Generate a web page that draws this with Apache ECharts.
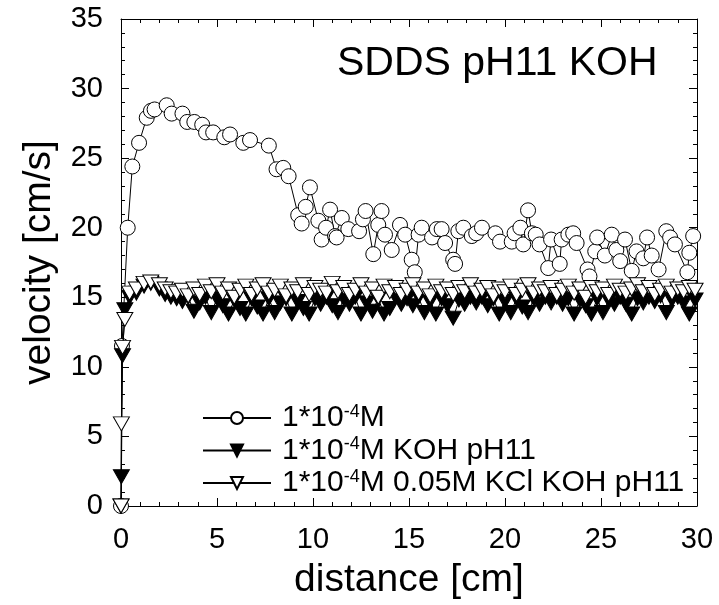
<!DOCTYPE html>
<html>
<head>
<meta charset="utf-8">
<script src="https://cdn.jsdelivr.net/npm/echarts@6/dist/echarts.min.js"></script>
<style>
html,body{margin:0;padding:0;background:#fff;}
#chart{width:719px;height:605px;}
</style>
</head>
<body>
<div id="chart"></div>
<script>
// ---- data ----
var seriesNames = ['1*10-4M', '1*10-4M KOH pH11', '1*10-4M 0.05M KCl KOH pH11'];

var circX = [0,0.05,0.35,0.59,0.94,1.34,1.56,1.75,2.38,2.64,3.2,3.45,3.82,4.23,4.43,4.8,5.38,5.68,6.37,6.72,7.7,8.1,8.45,8.73,9.23,9.41,9.62,9.84,10.28,10.45,10.68,10.89,11.15,11.23,11.5,11.84,12.4,12.6,12.74,13.14,13.4,13.57,13.75,14.1,14.53,14.8,15.14,15.3,15.5,15.66,16.2,16.45,16.7,16.88,17.3,17.4,17.57,17.83,18.27,18.5,18.8,19.5,19.74,20.35,20.5,20.8,20.95,21.2,21.4,21.6,21.8,22.25,22.4,22.85,22.95,23.3,23.55,23.73,24.3,24.4,24.7,24.8,25.2,25.56,25.8,26.0,26.25,26.6,26.85,27.2,27.4,27.64,28.0,28.4,28.6,28.85,29.5,29.6,29.8];
var circY = [0,11.5,20.0,24.4,26.1,27.9,28.4,28.5,28.8,28.2,28.2,27.6,27.6,27.4,26.85,26.85,26.5,26.7,26.1,26.3,25.9,24.2,24.3,23.7,20.9,20.3,21.5,22.9,20.5,19.15,20.0,21.3,19.4,19.3,20.7,19.9,19.75,20.6,21.2,18.1,20.2,21.2,19.5,18.4,20.2,19.5,17.7,16.8,19.5,20.0,19.3,19.9,19.9,18.9,17.7,17.4,19.75,20.0,19.4,19.6,20.0,19.6,19.0,19.0,19.6,20.0,18.8,21.25,19.6,19.5,18.8,17.1,19.15,17.4,19.15,19.5,19.6,18.9,17.0,16.5,18.3,19.3,18.0,19.5,18.4,17.6,19.15,16.9,18.3,17.8,19.3,18.0,17.0,19.75,19.3,18.8,16.8,18.2,19.4];

var triX = [0,0.02,0.08,0.2,0.45,0.8,1.2,1.55,
  2.0,2.3,2.6,2.9,3.2,3.5,3.8,4.1,4.4,4.7,5.0,5.3,5.6,5.9,6.2,6.5,6.8,7.1,7.4,7.7,8.0,8.3,8.6,8.9,9.2,9.5,9.8,
  10.1,10.4,10.7,11.0,11.3,11.6,11.9,12.2,12.5,12.8,13.1,13.4,13.7,14.0,14.3,14.6,14.9,15.2,15.5,15.8,
  16.1,16.4,16.7,17.0,17.3,17.6,17.9,18.2,18.5,18.8,19.1,19.4,19.7,20.0,20.3,20.6,20.9,21.2,21.5,21.8,
  22.1,22.4,22.7,23.0,23.3,23.6,23.9,24.2,24.5,24.8,25.1,25.4,25.7,26.0,26.3,26.6,26.9,27.2,27.5,27.8,
  28.1,28.4,28.7,29.0,29.3,29.6,29.9];

var kohY = [0,2.1,10.8,14.1,15.0,15.3,15.8,16.0,
  15.6,15.2,15.0,14.9,14.7,15.0,14.0,14.6,15.0,13.9,14.9,14.4,13.8,14.8,14.2,13.8,14.9,14.3,13.8,14.9,13.9,14.6,14.9,13.8,14.7,14.2,13.8,
  14.9,14.5,15.0,14.4,13.9,14.9,14.5,15.0,13.8,14.6,14.0,14.9,13.8,14.2,15.0,14.5,14.9,14.4,15.0,13.9,
  14.7,13.8,14.9,14.4,13.5,14.8,14.5,15.0,14.6,15.0,14.4,14.9,13.8,14.7,13.9,14.9,14.3,13.9,14.9,14.5,
  15.0,14.6,15.0,14.5,14.9,13.8,14.8,14.4,13.8,14.9,13.9,14.8,14.5,15.0,14.5,13.8,14.9,14.6,15.0,14.7,
  15.1,13.9,14.8,15.0,14.6,13.8,14.8];

var kclY = [0,5.9,11.4,13.4,15.3,15.6,16.0,16.1,
  15.9,15.6,15.4,15.3,15.5,15.1,15.6,15.2,15.8,15.4,15.9,15.3,15.6,15.0,15.5,15.8,15.2,15.6,15.9,15.3,15.5,15.8,15.1,15.6,15.4,15.9,15.2,
  15.7,15.5,15.3,16.0,15.4,15.7,15.2,15.5,15.9,15.3,15.6,15.0,15.8,15.4,15.7,15.2,15.5,15.9,15.3,15.6,
  15.1,15.8,15.4,15.6,15.2,15.7,15.4,15.9,15.3,15.5,15.7,15.1,15.6,15.4,15.8,15.2,15.5,15.9,15.3,15.6,
  15.4,15.7,15.2,15.5,15.8,15.3,15.6,15.0,15.7,15.4,15.6,15.2,15.8,15.5,15.3,15.6,15.9,15.4,15.7,15.2,
  15.5,15.8,15.3,15.6,15.4,15.7,15.5];

var xTicks = {min: 0, max: 30, interval: 5};
var yTicks = {min: 0, max: 35, interval: 5};
var titleText = 'SDDS pH11 KOH';
var xName = 'distance [cm]';
var yName = 'velocity [cm/s]';

// ---- chart ----
function zip(xs, ys) { var out = []; for (var i = 0; i < Math.min(xs.length, ys.length); i++) out.push([xs[i], ys[i]]); return out; }

var FONT = '"Liberation Sans", Arial, sans-serif';
var chart = echarts.init(document.getElementById('chart'), null, {renderer: 'canvas'});

function axisCommon(extra) {
  var base = {
    type: 'value',
    axisLine: {show: true, onZero: false, lineStyle: {color: '#000', width: 1}},
    axisTick: {show: true, inside: true, length: 8, lineStyle: {color: '#000'}},
    minorTick: {show: true, splitNumber: 5, length: 4, lineStyle: {color: '#000'}},
    splitLine: {show: false},
    axisLabel: {color: '#000', fontSize: 29, fontFamily: FONT}
  };
  return Object.assign(base, extra);
}

var option = {
  animation: false,
  backgroundColor: '#fff',
  textStyle: {fontFamily: FONT},
  title: {
    text: titleText, left: 332, top: 38,
    textStyle: {fontSize: 41, fontWeight: 'normal', color: '#000', fontFamily: FONT}
  },
  grid: {left: 121, right: 22, top: 19, bottom: 98, containLabel: false},
  legend: {
    orient: 'vertical', left: 197, top: 398,
    itemWidth: 68, itemHeight: 15, itemGap: 2.5,
    data: seriesNames,
    textStyle: {
      color: '#000', fontSize: 30, fontFamily: FONT, lineHeight: 30, padding: [0, 0, 0, 6],
      rich: {
        n: {fontSize: 30, fontFamily: FONT, color: '#000', lineHeight: 30},
        sup: {fontSize: 18, fontFamily: FONT, color: '#000', verticalAlign: 'top', lineHeight: 18}
      }
    },
    formatter: function (name) {
      var rest = name.slice(6);
      return '{n|1*10}{sup|-4}{n|' + rest + '}';
    }
  },
  xAxis: [
    axisCommon({min: xTicks.min, max: xTicks.max, interval: xTicks.interval, position: 'bottom',
      name: xName, nameLocation: 'middle', nameGap: 55,
      nameTextStyle: {fontSize: 39, color: '#000', fontFamily: FONT},
      axisLabel: {color: '#000', fontSize: 29, fontFamily: FONT, margin: 19}}),
    axisCommon({min: xTicks.min, max: xTicks.max, interval: xTicks.interval, position: 'top',
      axisLabel: {show: false}})
  ],
  yAxis: [
    axisCommon({min: yTicks.min, max: yTicks.max, interval: yTicks.interval, position: 'left',
      name: yName, nameLocation: 'middle', nameGap: 62,
      nameTextStyle: {fontSize: 39, color: '#000', fontFamily: FONT},
      axisLabel: {color: '#000', fontSize: 29, fontFamily: FONT, margin: 18}}),
    axisCommon({min: yTicks.min, max: yTicks.max, interval: yTicks.interval, position: 'right',
      axisLabel: {show: false}})
  ],
  series: [
    {
      name: seriesNames[0], type: 'line', data: zip(circX, circY),
      symbol: 'circle', symbolSize: 15, showAllSymbol: true,
      itemStyle: {color: '#fff', borderColor: '#000', borderWidth: 1},
      lineStyle: {color: '#000', width: 1}, z: 2
    },
    {
      name: seriesNames[1], type: 'line', data: zip(triX, kohY),
      symbol: 'triangle', symbolRotate: 180, symbolSize: [16, 14], showAllSymbol: true,
      itemStyle: {color: '#000', borderColor: '#000', borderWidth: 1},
      lineStyle: {color: '#000', width: 1}, z: 3
    },
    {
      name: seriesNames[2], type: 'line', data: zip(triX, kclY),
      symbol: 'triangle', symbolRotate: 180, symbolSize: [16, 14], showAllSymbol: true,
      itemStyle: {color: '#fff', borderColor: '#000', borderWidth: 1},
      lineStyle: {color: '#000', width: 1}, z: 4
    }
  ]
};
chart.setOption(option);
</script>
</body>
</html>
